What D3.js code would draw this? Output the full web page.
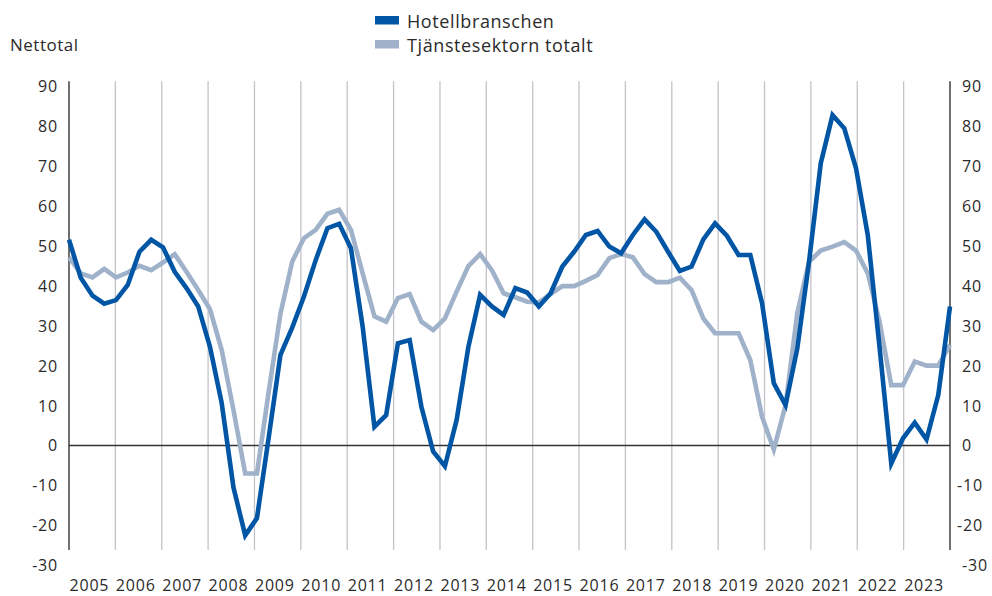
<!DOCTYPE html>
<html>
<head>
<meta charset="utf-8">
<script src="https://cdn.jsdelivr.net/npm/d3@7"></script>
<style>
  html, body { margin: 0; padding: 0; background: #fff; }
  svg { display: block; font-family: "Open Sans", "Noto Sans", sans-serif; }
</style>
</head>
<body>
<svg id="chart" width="992" height="596"></svg>
<script>
const years = ["2005","2006","2007","2008","2009","2010","2011","2012","2013","2014","2015","2016","2017","2018","2019","2020","2021","2022","2023"];
const yTicks = [-30,-20,-10,0,10,20,30,40,50,60,70,80,90];
const seriesNames = ["Hotellbranschen", "Tjänstesektorn totalt"];

// Quarterly values, 2005 Q1 – 2023 Q4
const hotell = [
  51.5, 42, 37.5, 35.5, 36.4, 40.2, 48.5, 51.5, 49.6, 43.5, 39.4, 34.8,
  24.7, 10.6, -10.5, -22.5, -18.2, 2, 22.7, 29.5, 37.3, 46.4, 54.4, 55.5,
  49.4, 29.7, 4.7, 7.6, 25.6, 26.4, 9.7, -1.5, -5.2, 6.4, 24.7, 37.7,
  34.8, 32.7, 39.4, 38.3, 34.8, 38.1, 44.8, 48.5, 52.7, 53.7, 49.8, 48.1,
  52.7, 56.6, 53.5, 48.5, 43.7, 44.8, 51.6, 55.6, 52.5, 47.7, 47.7, 35.6,
  15.6, 10.1, 24.3, 46, 70.7, 82.7, 79.4, 69.4, 52.7, 24.7, -4.5, 1.8,
  5.7, 1.5, 12.6, 34.8
];
const tjanst = [
  47.1, 43.1, 42.1, 44.2, 42.1, 43.3, 45, 43.9, 45.8, 47.9, 43.5, 38.9,
  34.1, 23.9, 8.9, -7, -7, 13.4, 33, 46, 51.9, 54, 58, 59,
  54, 43.1, 32.3, 31, 36.9, 37.9, 31, 28.9, 31.8, 38.5, 44.9, 47.9,
  43.9, 38.1, 37.1, 36, 35.8, 37.9, 39.9, 39.9, 41.2, 42.7, 46.9, 47.9,
  47.1, 42.9, 40.9, 40.9, 42, 38.9, 31.8, 28.1, 28.1, 28.1, 21.4, 7.2,
  -1, 10.1, 33.1, 46, 48.8, 49.8, 50.9, 48.8, 43.1, 31, 15.1, 15.1,
  21, 20, 20, 25.2
];

const svg = d3.select("#chart");
const left = 69, right = 950;
const x = d3.scaleLinear().domain([0, hotell.length - 1]).range([left, right]);
const xYear = d3.scaleBand().domain(years).range([left, right]).padding(0);
const y = d3.scaleLinear().domain([-30, 90]).range([565.3, 86]);

const textColor = "#2b2b2b";
const gridTop = y(91.2), gridBottom = y(-26.2);

// vertical year grid lines
svg.append("g").selectAll("line")
  .data(years.slice(1))
  .join("line")
  .attr("x1", d => xYear(d)).attr("x2", d => xYear(d))
  .attr("y1", gridTop).attr("y2", gridBottom)
  .attr("stroke", "#c3c3ca").attr("stroke-width", 1.3);

// axis lines left & right
[left, right].forEach(xx => {
  svg.append("line")
    .attr("x1", xx).attr("x2", xx)
    .attr("y1", gridTop).attr("y2", gridBottom)
    .attr("stroke", "#222").attr("stroke-width", 1.3);
});

// zero line
svg.append("line")
  .attr("x1", left).attr("x2", right)
  .attr("y1", y(0)).attr("y2", y(0))
  .attr("stroke", "#333").attr("stroke-width", 1.5);

// y labels
const ylab = svg.append("g").attr("font-size", 16).attr("letter-spacing", 0.8).attr("fill", textColor);
ylab.selectAll("text.l").data(yTicks).join("text")
  .attr("class", "l")
  .attr("x", 58).attr("y", d => y(d))
  .attr("text-anchor", "end").attr("dominant-baseline", "central")
  .text(d => d);
ylab.selectAll("text.r").data(yTicks).join("text")
  .attr("class", "r")
  .attr("x", d => (d < 0 && d > -30) ? 957 : 962).attr("y", d => y(d))
  .attr("text-anchor", "start").attr("dominant-baseline", "central")
  .text(d => d);

// x labels
svg.append("g").attr("font-size", 16).attr("letter-spacing", 0.8).attr("fill", textColor)
  .selectAll("text").data(years).join("text")
  .attr("x", d => xYear(d) + 0.5).attr("y", 591)
  .attr("text-anchor", "start")
  .text(d => d);

// unit label
svg.append("text").attr("x", 10).attr("y", 51)
  .attr("font-size", 17).attr("letter-spacing", 0.5).attr("fill", textColor).text("Nettotal");

// lines
const line = d3.line().x((d, i) => x(i)).y(d => y(d)).curve(d3.curveLinear);
const colors = ["#0055a5", "#9fb2ca"];
svg.append("path").datum(tjanst).attr("d", line)
  .attr("fill", "none").attr("stroke", colors[1]).attr("stroke-width", 4.6)
  .attr("stroke-linejoin", "miter");
svg.append("path").datum(hotell).attr("d", line)
  .attr("fill", "none").attr("stroke", colors[0]).attr("stroke-width", 4.6)
  .attr("stroke-linejoin", "miter");

// legend
const lg = svg.append("g");
seriesNames.forEach((name, i) => {
  lg.append("rect").attr("x", 375).attr("y", 16 + i * 24).attr("width", 24).attr("height", 8.5)
    .attr("fill", colors[i]);
  lg.append("text").attr("x", 407).attr("y", 20.5 + i * 24)
    .attr("dominant-baseline", "central")
    .attr("font-size", 18).attr("letter-spacing", 0.6).attr("fill", textColor).text(name);
});
</script>
</body>
</html>
